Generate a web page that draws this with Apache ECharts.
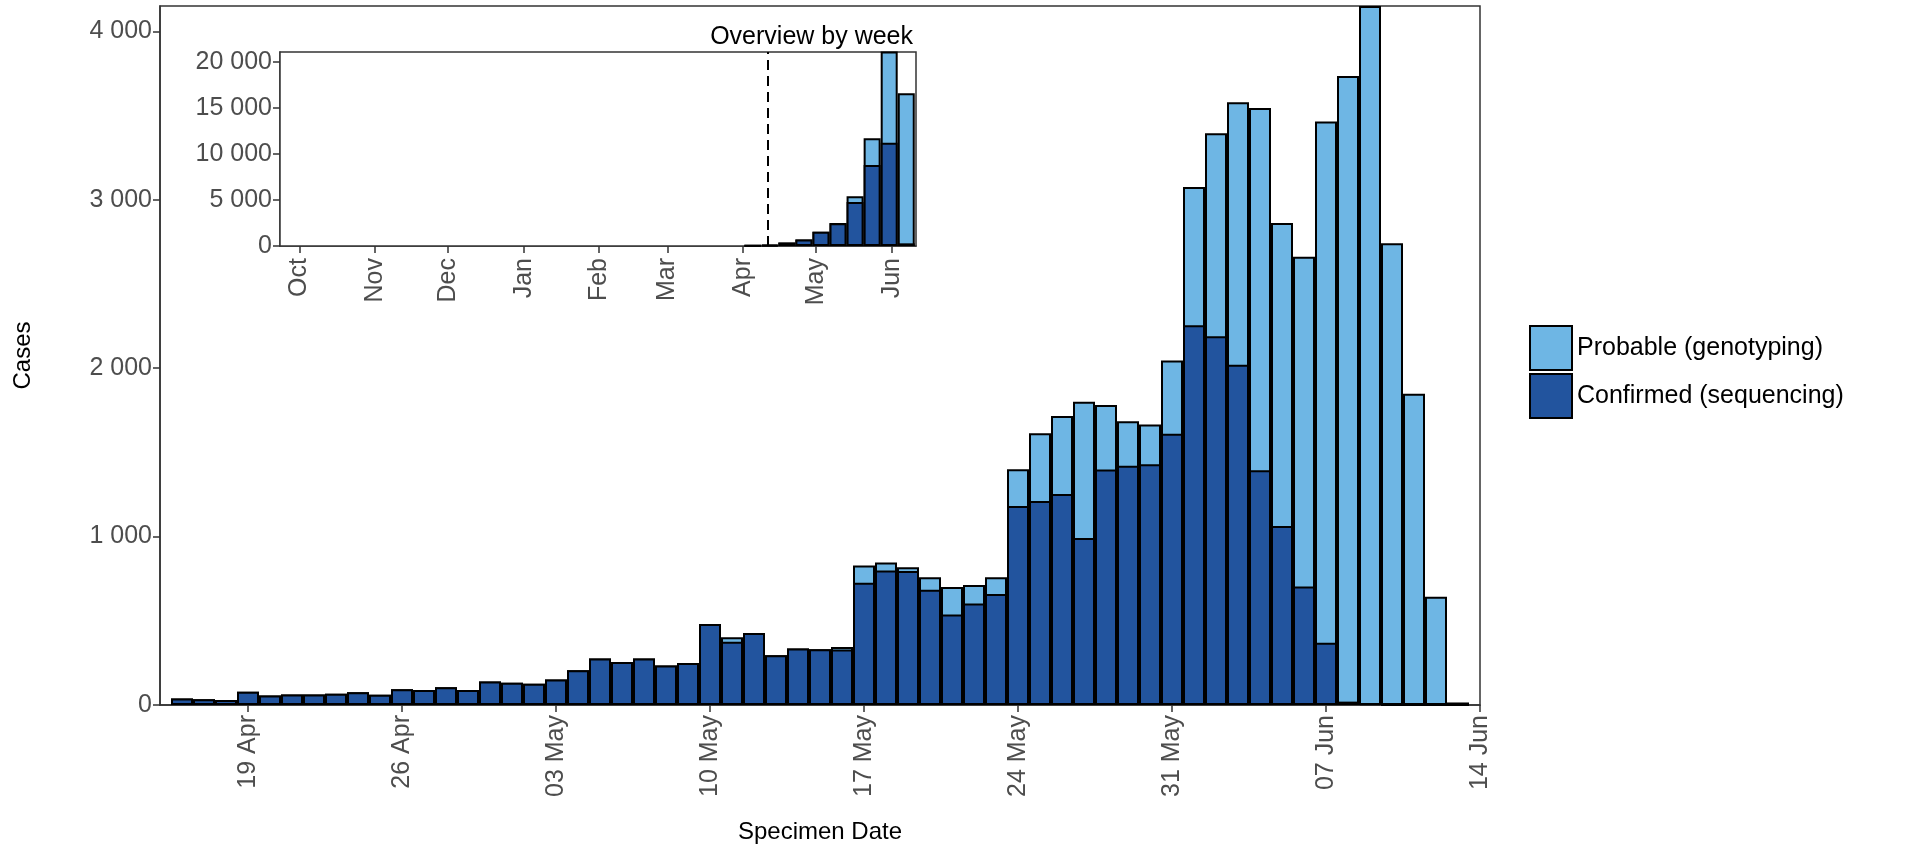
<!DOCTYPE html>
<html>
<head>
<meta charset="utf-8">
<script src="https://cdn.jsdelivr.net/npm/echarts@6/dist/echarts.min.js"></script>
<style>html,body{margin:0;padding:0;background:#fff}#main{width:1919px;height:849px}</style>
</head>
<body>
<div id="main"></div>
<script>
// daily series: day index 0 = 19 Apr 2021
const dayStart = -3; // 16 Apr
const dailyTotal = [39,34,30,79,57,63,63,67,75,61,93,89,105,89,140,132,126,152,207,276,256,276,235,249,481,402,428,296,335,331,345,
  828,846,818,759,700,712,759,1400,1613,1716,1801,1781,1685,1666,2045,3075,3394,3579,3544,2862,2661,3465,3735,4150,2742,1848,643,15];
const dailyConfirmed = [39,34,30,79,57,63,63,67,75,61,93,89,105,89,140,132,126,152,207,276,256,276,235,249,481,375,428,296,335,331,330,
  726,799,795,684,538,602,659,1181,1211,1252,992,1398,1420,1430,1611,2254,2189,2020,1393,1063,703,370,20,10,0,0,0,0];
const mainTicks = [0,7,14,21,28,35,42,49,56];
const mainTickLabels = ['19 Apr','26 Apr','03 May','10 May','17 May','24 May','31 May','07 Jun','14 Jun'];

// weekly overview: day index 0 = 1 Oct 2020
const weekCenters = [186,193,200,207,214,221,228,235,242,249];
const weeklyTotal = [30,100,375,700,1540,2500,5400,11730,21160,16600];
const weeklyConfirmed = [30,100,375,700,1540,2480,4780,8820,11230,290];
const insetTicks = [0,31,61,92,123,151,182,212,243];
const insetTickLabels = ['Oct','Nov','Dec','Jan','Feb','Mar','Apr','May','Jun'];
const insetCutoff = 192;

const light = '#6EB6E4', dark = '#22549E';
const fmt = v => String(v).replace(/\B(?=(\d{3})+(?!\d))/g, ' ');

// probable sits on top of confirmed: draw the total in light, confirmed over it in dark
const dTot = dailyTotal.map((v, i) => [dayStart + i, v]);
const dConf = dailyConfirmed.map((v, i) => [dayStart + i, v]);
const wTot = weeklyTotal.map((v, i) => [weekCenters[i], v]);
const wConf = weeklyConfirmed.map((v, i) => [weekCenters[i], v]);

const FONT = 'Liberation Sans';
const axisText = {color: '#4d4d4d', fontSize: 25, fontFamily: FONT};
const axisLine = {show: true, onZero: false, lineStyle: {color: '#333', width: 1.5}};
const axisTick = {show: true, length: 7, lineStyle: {color: '#333', width: 1.5}};
const nameStyle = {fontSize: 24, color: '#000', fontFamily: FONT};

const chart = echarts.init(document.getElementById('main'));
chart.setOption({
  animation: false,
  textStyle: {fontFamily: FONT},
  grid: [
    {left: 160, right: 439, top: 6, bottom: 133, show: true, borderColor: '#333', borderWidth: 1.5},
    {left: 280, width: 636, top: 52, height: 194, show: true, borderColor: '#333', borderWidth: 1.5, z: 5, backgroundColor: '#fff'}
  ],
  title: {text: 'Overview by week', right: 1919 - 918, top: 20,
    textStyle: {fontSize: 25, fontWeight: 'normal', color: '#000', fontFamily: FONT}},
  legend: {orient: 'vertical', left: 1524, top: 320, itemWidth: 42, itemHeight: 44, itemGap: 2, icon: 'rect',
    data: ['Probable (genotyping)', 'Confirmed (sequencing)'],
    textStyle: {fontSize: 25, color: '#000', fontFamily: FONT}},
  xAxis: [
    {type: 'value', gridIndex: 0, min: -4, max: 56, axisLine, axisTick: Object.assign({customValues: mainTicks}, axisTick),
      splitLine: {show: false},
      axisLabel: Object.assign({customValues: mainTicks, rotate: 90, margin: 10,
        formatter: v => mainTickLabels[mainTicks.indexOf(v)]}, axisText),
      name: 'Specimen Date', nameLocation: 'middle', nameGap: 115, nameTextStyle: nameStyle},
    {type: 'value', gridIndex: 1, min: -8, max: 253, axisLine, axisTick: Object.assign({customValues: insetTicks}, axisTick),
      splitLine: {show: false},
      axisLabel: Object.assign({customValues: insetTicks, rotate: 90, margin: 12,
        formatter: v => insetTickLabels[insetTicks.indexOf(v)]}, axisText)}
  ],
  yAxis: [
    {type: 'value', gridIndex: 0, min: 0, max: 4150, interval: 1000, axisLine, axisTick, splitLine: {show: false},
      axisLabel: Object.assign({formatter: fmt, showMaxLabel: false}, axisText),
      name: 'Cases', nameLocation: 'middle', nameGap: 125, nameTextStyle: nameStyle},
    {type: 'value', gridIndex: 1, min: 0, max: 21100, interval: 5000, axisLine, axisTick, splitLine: {show: false},
      axisLabel: Object.assign({formatter: fmt, showMaxLabel: false}, axisText)}
  ],
  series: [
    {name: 'Probable (genotyping)', type: 'bar', data: dTot, barWidth: 22, barGap: '-100%',
      itemStyle: {color: light, borderColor: '#000', borderWidth: 2}},
    {name: 'Confirmed (sequencing)', type: 'bar', data: dConf, barWidth: 22, barGap: '-100%',
      itemStyle: {color: dark, borderColor: '#000', borderWidth: 2}},
    {name: 'Probable (genotyping)', type: 'bar', xAxisIndex: 1, yAxisIndex: 1, data: wTot, barWidth: 17, barGap: '-100%', z: 6,
      itemStyle: {color: light, borderColor: '#000', borderWidth: 2},
      markLine: {silent: true, symbol: 'none', label: {show: false},
        lineStyle: {color: '#000', type: [10, 6], width: 2}, data: [{xAxis: insetCutoff}]}},
    {name: 'Confirmed (sequencing)', type: 'bar', xAxisIndex: 1, yAxisIndex: 1, data: wConf, barWidth: 17, barGap: '-100%', z: 6,
      itemStyle: {color: dark, borderColor: '#000', borderWidth: 2}}
  ]
});
</script>
</body>
</html>
